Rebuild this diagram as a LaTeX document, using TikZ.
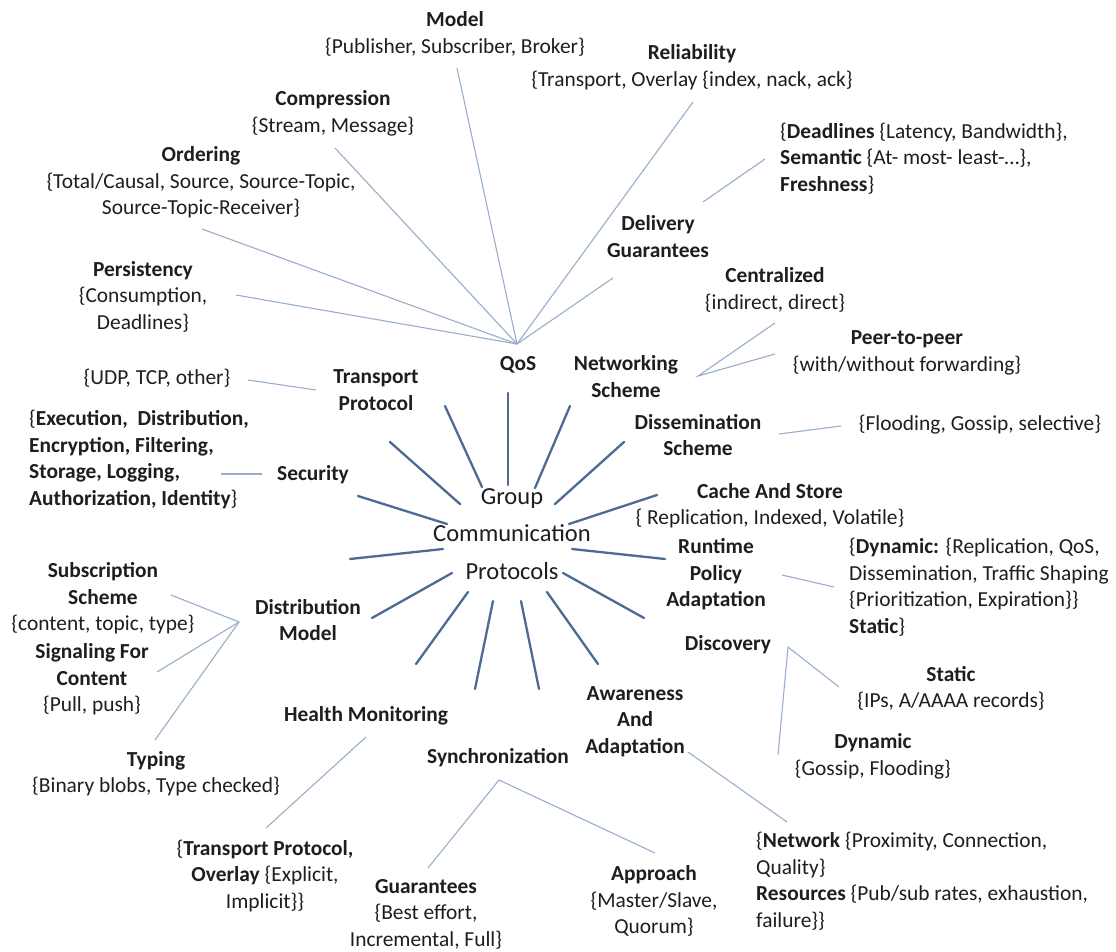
\documentclass[tikz,border=0pt]{standalone}
\usepackage{fontspec}
\setmainfont{Carlito}
\definecolor{lnc}{HTML}{98AECD}
\definecolor{spc}{HTML}{4C6A93}
\definecolor{txc}{HTML}{1E1E1E}
\tikzset{
  txt/.style={font=\fontsize{21.4}{26.5}\selectfont, inner sep=0pt, align=center, text=txc},
  blk/.style={txt, align=left, anchor=west},
  ctr/.style={font=\fontsize{24.5}{37.5}\selectfont, inner sep=0pt, align=center, text=txc},
  thinline/.style={draw=lnc, line width=1.1pt},
  spoke/.style={draw=spc, line width=2.3pt, line cap=round}
}
\begin{document}
\begin{tikzpicture}[x=1pt,y=-1pt]
\useasboundingbox (0,0) rectangle (1116,951);
\fill[white] (0,0) rectangle (1116,951);

% ---------- nodes ----------
\node[txt] (model) at (455,34) {\textbf{Model}\\\{Publisher, Subscriber, Broker\}};
\node[txt] (reli) at (692,67) {\textbf{Reliability}\\\{Transport, Overlay \{index, nack, ack\}};
\node[txt] (comp) at (333,113.5) {\textbf{Compression}\\\{Stream, Message\}};
\node[txt] (ord) at (201,182.7) {\textbf{Ordering}\\\{Total/Causal, Source, Source-Topic,\\Source-Topic-Receiver\}};
\node[txt] (pers) at (143,296.7) {\textbf{Persistency}\\\{Consumption,\\Deadlines\}};
\node[blk] (deadl) at (780,158.3) {\{\textbf{Deadlines} \{Latency, Bandwidth\},\\\textbf{Semantic} \{At- most- least-…\},\\\textbf{Freshness}\}};
\node[txt] (deliv) at (658,236.5) {\textbf{Delivery}\\\textbf{Guarantees}};
\node[txt] (cent) at (775,290) {\textbf{Centralized}\\\{indirect, direct\}};
\node[txt] (p2p) at (907,353) {\textbf{Peer-to-peer}\\\{with/without forwarding\}};
\node[txt] (qos) at (518,365) {\textbf{QoS}};
\node[txt] (netw) at (626,376.5) {\textbf{Networking}\\\textbf{Scheme}};
\node[txt] (transp) at (376,390) {\textbf{Transport}\\\textbf{Protocol}};
\node[txt] (udp) at (157,378) {\{UDP, TCP, other\}};
\node[txt] (dissem) at (698,435) {\textbf{Dissemination}\\\textbf{Scheme}};
\node[txt] (flood) at (980,425) {\{Flooding, Gossip, selective\}};
\node[blk] (secblk) at (29,459.5) {\{\textbf{Execution,\ \ Distribution,}\\\textbf{Encryption, Filtering,}\\\textbf{Storage, Logging,}\\\textbf{Authorization, Identity}\}};
\node[txt] (sec) at (313,475) {\textbf{Security}};
\node[ctr] (gcp) at (512,534) {Group\\Communication\\Protocols};
\node[txt] (cache) at (770,505.5) {\textbf{Cache And Store}\\\{ Replication, Indexed, Volatile\}};
\node[txt] (runtime) at (716,574.3) {\textbf{Runtime}\\\textbf{Policy}\\\textbf{Adaptation}};
\node[blk] (dynblk) at (849,587) {\{\textbf{Dynamic:} \{Replication, QoS,\\Dissemination, Traffic Shaping\\\{Prioritization, Expiration\}\}\\\textbf{Static}\}};
\node[txt] (subs) at (103,598.3) {\textbf{Subscription}\\\textbf{Scheme}\\\{content, topic, type\}};
\node[txt] (distm) at (308,620) {\textbf{Distribution}\\\textbf{Model}};
\node[txt] (sig) at (92,679.7) {\textbf{Signaling For}\\\textbf{Content}\\\{Pull, push\}};
\node[txt] (disc) at (728,645) {\textbf{Discovery}};
\node[txt] (health) at (366,716) {\textbf{Health Monitoring}};
\node[txt] (stat) at (951,688.5) {\textbf{Static}\\\{IPs, A/AAAA records\}};
\node[txt] (aware) at (635,721.3) {\textbf{Awareness}\\\textbf{And}\\\textbf{Adaptation}};
\node[txt] (typing) at (156,773.5) {\textbf{Typing}\\\{Binary blobs, Type checked\}};
\node[txt] (sync) at (498,758) {\textbf{Synchronization}};
\node[txt] (dyn) at (873,756.5) {\textbf{Dynamic}\\\{Gossip, Flooding\}};
\node[txt] (healthblk) at (265,875.7) {\{\textbf{Transport Protocol,}\\\textbf{Overlay} \{Explicit,\\Implicit\}\}};
\node[txt] (guar) at (426,914.3) {\textbf{Guarantees}\\\{Best effort,\\Incremental, Full\}};
\node[txt] (appr) at (654,901.3) {\textbf{Approach}\\\{Master/Slave,\\Quorum\}};
\node[blk] (netblk) at (756,881.2) {\{\textbf{Network} \{Proximity, Connection,\\Quality\}\\\textbf{Resources} \{Pub/sub rates, exhaustion,\\failure\}\}};

% ---------- connector end points ----------
\coordinate (qc) at (517,344);
\coordinate (mA) at (457,68);
\coordinate (cA) at (335,148);
\coordinate (oA) at (202,229);
\coordinate (pA) at (236,295);
\coordinate (rA) at (693,102);
\coordinate (dA) at (613,278);
\coordinate (dB) at (703,202);
\coordinate (dC) at (765,159);
\coordinate (nc) at (698,376);
\coordinate (nA) at (775,323);
\coordinate (nB) at (775,354);
\coordinate (uA) at (248,380);
\coordinate (uB) at (316,390);
\coordinate (sA) at (221,474);
\coordinate (sB) at (262,474);
\coordinate (fA) at (779,434);
\coordinate (fB) at (841,426);
\coordinate (rtA) at (782,575);
\coordinate (rtB) at (834,587);
\coordinate (dmc) at (239,622);
\coordinate (dmA) at (171,595);
\coordinate (dmB) at (157,672);
\coordinate (dmC) at (155,740);
\coordinate (hA) at (366,737);
\coordinate (hB) at (266,828);
\coordinate (syc) at (499,780);
\coordinate (syA) at (428,868);
\coordinate (syB) at (655,853);
\coordinate (awA) at (688,752);
\coordinate (awB) at (787,822);
\coordinate (dsc) at (788,647);
\coordinate (dsA) at (778,755);
\coordinate (dsB) at (839,687);

% ---------- thin connectors ----------
\foreach \p in {mA,cA,oA,pA,rA,dA} \draw[thinline] (\p) -- (qc);
\draw[thinline] (dB) -- (dC);
\draw[thinline] (nA) -- (nc) -- (nB);
\draw[thinline] (uA) -- (uB);
\draw[thinline] (sA) -- (sB);
\draw[thinline] (fA) -- (fB);
\draw[thinline] (rtA) -- (rtB);
\draw[thinline] (dmA) -- (dmc) -- (dmC);
\draw[thinline] (dmB) -- (dmc);
\draw[thinline] (hA) -- (hB);
\draw[thinline] (syA) -- (syc) -- (syB);
\draw[thinline] (awA) -- (awB);
\draw[thinline] (dsA) -- (dsc) -- (dsB);

% ---------- spokes from the centre ----------
\coordinate (k1a) at (445,406); \coordinate (k1b) at (482,487);
\coordinate (k2a) at (390,442); \coordinate (k2b) at (460,504);
\coordinate (k3a) at (508,393); \coordinate (k3b) at (508,485);
\coordinate (k4a) at (570,406); \coordinate (k4b) at (535,488);
\coordinate (k5a) at (624,442); \coordinate (k5b) at (555,504);
\coordinate (k6a) at (358,496); \coordinate (k6b) at (447,524);
\coordinate (k7a) at (657,495); \coordinate (k7b) at (569,524);
\coordinate (k8a) at (350,559); \coordinate (k8b) at (443,549);
\coordinate (k9a) at (665,559); \coordinate (k9b) at (572,549);
\coordinate (k10a) at (372,618); \coordinate (k10b) at (452,573);
\coordinate (k11a) at (644,618); \coordinate (k11b) at (563,573);
\coordinate (k12a) at (416,664); \coordinate (k12b) at (468,592);
\coordinate (k13a) at (475,689); \coordinate (k13b) at (493,601);
\coordinate (k14a) at (539,689); \coordinate (k14b) at (521,601);
\coordinate (k15a) at (598,664); \coordinate (k15b) at (547,592);
\foreach \i in {1,...,15} \draw[spoke] (k\i a) -- (k\i b);
\end{tikzpicture}
\end{document}
